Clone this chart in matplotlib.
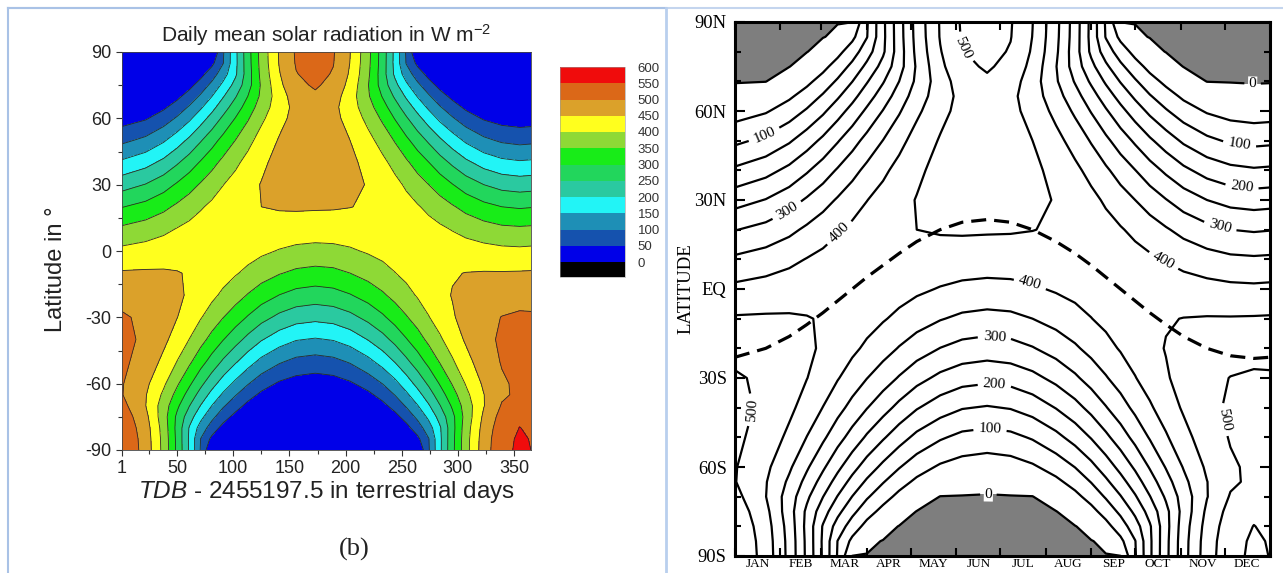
import numpy as np
import matplotlib.pyplot as plt
from matplotlib.colors import ListedColormap, BoundaryNorm
from matplotlib.cm import ScalarMappable
from matplotlib.lines import Line2D

plt.rcParams['font.family'] = ['Liberation Sans', 'DejaVu Sans']
plt.rcParams['mathtext.fontset'] = 'custom'
plt.rcParams['mathtext.rm'] = 'Liberation Sans'
plt.rcParams['mathtext.it'] = 'Liberation Sans:italic'
plt.rcParams['axes.unicode_minus'] = False

# ------------------------------------------------------------------
# values (W m^-2)
# ------------------------------------------------------------------
latitudes = [-90, -85, -80, -75, -70, -65, -60, -50, -40, -30, -20, -10, 0,
             10, 20, 30, 40, 50, 60, 65, 70, 75, 80, 85, 90]

days = [1, 22, 38, 50, 61, 71, 81, 91, 102, 113, 125, 141, 156, 173, 189,
        204, 220, 233, 244, 254, 264, 274, 284, 295, 307, 323, 339, 355, 366]

# latitude of the overhead sun (dashed line, right panel)
declination = [-23.0, -20, -16, -12, -8, -4, 0, 4, 8, 12, 16, 20, 22.5, 23.4, 22.5,
               20, 16, 12, 8, 4, 0, -4, -8, -12, -16, -20, -22.5, -23.4, -23.0]

# one list per day, from 90S to 90N
insolation_by_day = [
    [549, 547, 541, 531, 516, 502, 503, 510, 513, 505, 486, 455, 412, 359, 298, 230, 159, 89, 27, 4, 0, 0, 0, 0, 0],
    [480, 478, 473, 464, 451, 453, 461, 480, 491, 492, 480, 456, 420, 373, 316, 252, 183, 112, 45, 17, 0, 0, 0, 0, 0],
    [385, 384, 380, 372, 376, 391, 408, 439, 461, 472, 470, 455, 428, 388, 338, 279, 213, 144, 74, 42, 14, 0, 0, 0, 0],
    [289, 288, 285, 290, 310, 334, 357, 399, 430, 451, 458, 452, 433, 402, 359, 306, 244, 177, 106, 71, 38, 10, 0, 0, 0],
    [193, 192, 196, 222, 251, 280, 308, 359, 399, 428, 444, 447, 437, 413, 378, 331, 275, 211, 141, 106, 70, 36, 7, 0, 0],
    [96, 99, 129, 164, 198, 231, 262, 319, 367, 403, 428, 440, 438, 423, 395, 355, 305, 246, 179, 143, 107, 71, 35, 3, 0],
    [0, 38, 76, 113, 149, 184, 218, 281, 334, 378, 410, 430, 437, 430, 410, 378, 334, 281, 218, 184, 149, 113, 76, 38, 0],
    [0, 3, 34, 70, 106, 142, 177, 243, 302, 351, 391, 418, 433, 435, 423, 399, 363, 316, 259, 228, 196, 162, 128, 98, 95],
    [0, 0, 6, 35, 69, 103, 138, 206, 269, 324, 370, 404, 427, 437, 434, 418, 390, 351, 302, 274, 246, 217, 192, 188, 189],
    [0, 0, 0, 10, 37, 69, 103, 171, 236, 296, 347, 389, 419, 438, 443, 436, 416, 385, 345, 323, 300, 280, 276, 279, 280],
    [0, 0, 0, 0, 13, 40, 71, 137, 204, 267, 324, 372, 409, 436, 450, 452, 441, 420, 390, 374, 360, 356, 363, 367, 369],
    [0, 0, 0, 0, 0, 16, 43, 106, 173, 238, 299, 353, 397, 432, 454, 465, 465, 454, 436, 428, 427, 439, 447, 453, 454],
    [0, 0, 0, 0, 0, 6, 29, 87, 153, 220, 283, 340, 389, 427, 456, 473, 478, 475, 466, 464, 475, 488, 498, 504, 506],
    [0, 0, 0, 0, 0, 3, 23, 80, 146, 213, 276, 334, 385, 425, 455, 474, 483, 482, 477, 478, 492, 506, 516, 522, 524],
    [0, 0, 0, 0, 0, 6, 28, 87, 153, 219, 282, 338, 387, 426, 454, 470, 476, 473, 464, 462, 473, 486, 496, 502, 504],
    [0, 0, 0, 0, 0, 16, 43, 105, 171, 236, 297, 350, 394, 428, 451, 462, 461, 450, 433, 425, 424, 435, 444, 449, 451],
    [0, 0, 0, 0, 13, 39, 70, 136, 202, 264, 320, 368, 405, 431, 445, 447, 436, 415, 386, 370, 356, 352, 359, 363, 365],
    [0, 0, 0, 10, 37, 68, 101, 169, 233, 292, 343, 384, 414, 432, 437, 430, 411, 381, 341, 319, 296, 277, 272, 275, 276],
    [0, 0, 6, 35, 68, 102, 136, 203, 265, 320, 365, 399, 421, 431, 428, 413, 385, 346, 297, 271, 242, 214, 190, 185, 186],
    [0, 3, 34, 69, 105, 140, 174, 239, 297, 346, 385, 412, 427, 428, 417, 393, 358, 311, 256, 225, 193, 160, 126, 97, 94],
    [0, 38, 75, 111, 147, 182, 215, 276, 329, 372, 404, 423, 430, 423, 404, 372, 329, 276, 215, 182, 147, 111, 75, 38, 0],
    [95, 98, 128, 161, 195, 227, 258, 315, 362, 398, 422, 433, 431, 417, 389, 350, 301, 242, 176, 141, 106, 70, 34, 3, 0],
    [190, 190, 194, 219, 248, 277, 304, 354, 393, 422, 438, 441, 431, 408, 373, 327, 271, 208, 139, 104, 69, 35, 6, 0, 0],
    [286, 285, 282, 286, 307, 330, 353, 394, 425, 445, 452, 447, 428, 397, 355, 302, 241, 175, 105, 71, 38, 10, 0, 0, 0],
    [381, 380, 376, 368, 372, 387, 403, 434, 456, 467, 465, 451, 423, 384, 335, 276, 211, 142, 73, 41, 13, 0, 0, 0, 0],
    [477, 475, 469, 460, 448, 449, 458, 476, 487, 488, 477, 453, 417, 370, 314, 250, 181, 111, 45, 17, 0, 0, 0, 0, 0],
    [536, 534, 528, 518, 504, 492, 494, 503, 507, 501, 483, 453, 412, 360, 300, 233, 163, 93, 30, 6, 0, 0, 0, 0, 0],
    [559, 557, 551, 540, 525, 510, 509, 514, 515, 506, 486, 454, 410, 357, 295, 227, 156, 86, 25, 3, 0, 0, 0, 0, 0],
    [549, 547, 541, 531, 516, 502, 503, 510, 513, 505, 486, 455, 412, 359, 298, 230, 159, 89, 27, 4, 0, 0, 0, 0, 0],
]

levels = list(range(0, 601, 50))
band_colors = ['#0000e8', '#1552ae', '#1e8fb6', '#22f4f6', '#2ac9a0', '#22d65c',
               '#18ec18', '#8ed936', '#ffff1e', '#dba12a', '#db6818', '#f00c0c']

month_names = ['JAN', 'FEB', 'MAR', 'APR', 'MAY', 'JUN',
               'JUL', 'AUG', 'SEP', 'OCT', 'NOV', 'DEC']
month_starts = [1, 32, 60, 91, 121, 152, 182, 213, 244, 274, 305, 335, 366]

lat_names = ['90S', '60S', '30S', 'EQ', '30N', '60N', '90N']

# where the inline labels of the right panel sit (day, latitude)
label_spots = [(21, 52), (36, 27), (72, 19), (152, 80), (345, 48), (347, 35),
               (332, 21), (294, 10), (354, 68), (202, 1), (178, -16), (178, -32),
               (175, -47), (174, -68), (15, -41), (335, -44)]

Q = np.array(insolation_by_day, dtype=float).T   # rows = latitude, cols = day

W, H = 1283, 573
fig = plt.figure(figsize=(W / 100, H / 100), dpi=100)


def box(x0, y0, x1, y1):
    """pixel box (top-left origin) -> figure fraction rect"""
    return [x0 / W, 1 - y1 / H, (x1 - x0) / W, (y1 - y0) / H]


# ---------------- left panel: filled contours ----------------
ink = '#222222'
ax1 = fig.add_axes(box(122, 52, 531, 450))
ax1.contourf(days, latitudes, Q, levels=levels, colors=band_colors)
ax1.contour(days, latitudes, Q, levels=levels[1:-1], colors='#2a2a2a', linewidths=0.6)
ax1.set_xlim(1, 365)
ax1.set_ylim(-90, 90)
ax1.set_xticks([1, 50, 100, 150, 200, 250, 300, 350])
ax1.set_xticks([25, 75, 125, 175, 225, 275, 325], minor=True)
ax1.set_yticks([-90, -60, -30, 0, 30, 60, 90])
ax1.set_yticks([-75, -45, -15, 15, 45, 75], minor=True)
ax1.tick_params(which='both', direction='out', labelsize=13, color='#333333',
                labelcolor=ink, width=0.8)
ax1.tick_params(which='major', length=4)
ax1.tick_params(which='minor', length=3)
for s in ax1.spines.values():
    s.set_linewidth(0.6)
    s.set_color('#444444')
ax1.set_title(r'Daily mean solar radiation in W m$^{-2}$', fontsize=15, pad=7, color=ink)
ax1.set_xlabel(r'$\mathit{TDB}$ - 2455197.5 in terrestrial days', fontsize=17.5,
               labelpad=1, color=ink)
fig.text(56 / W, 1 - 269 / H, 'Latitude in °', rotation=90, fontsize=17,
         ha='center', va='center', color=ink)
fig.text(354 / W, 1 - 549 / H, '(b)', fontsize=19, family='Liberation Serif',
         ha='center', va='center', color=ink)

cmap = ListedColormap(band_colors)
cmap.set_under('black')
norm = BoundaryNorm(levels, cmap.N)
cax = fig.add_axes(box(560, 67, 625, 277))
cb = fig.colorbar(ScalarMappable(norm=norm, cmap=cmap), cax=cax, extend='min',
                  extendrect=True, extendfrac=15 / 195, ticks=levels)
cb.outline.set_linewidth(0.4)
cb.outline.set_edgecolor('#999999')
cax.tick_params(length=0, labelsize=9.5, pad=9, labelcolor='#333333')

# ---------------- right panel: line contours ----------------
ax2 = fig.add_axes(box(735, 22, 1270, 556))
ax2.contourf(days, latitudes, Q, levels=[-1, 0.5], colors=['#7e7e7e'])
plain_levels = [v for v in range(50, 551, 50) if v % 100]
labelled_levels = [0.5, 100, 200, 300, 400, 500]
ax2.contour(days, latitudes, Q, levels=plain_levels, colors='black', linewidths=1.6)
cs = ax2.contour(days, latitudes, Q, levels=labelled_levels, colors='black', linewidths=1.6)
texts = ax2.clabel(cs, manual=label_spots, inline=True, inline_spacing=4, fontsize=11,
                   fmt=lambda v: '0' if v < 1 else f'{v:.0f}')
for t in texts:
    t.set_family('Liberation Serif')
    t.set_bbox(dict(facecolor='white', edgecolor='none', pad=0.5))
ax2.plot(days, declination, color='black', lw=2.3, dashes=(4.7, 2.5))

ax2.set_xlim(1, 366)
ax2.set_ylim(-90, 90)
ax2.set_xticks(month_starts)
ax2.set_xticklabels([])
mids = [(a + b) / 2 for a, b in zip(month_starts[:-1], month_starts[1:])]
ax2.set_xticks(mids, minor=True)
ax2.set_xticklabels(month_names, minor=True, family='Liberation Serif', fontsize=9.5)
ax2.set_yticks([-90, -60, -30, 0, 30, 60, 90])
ax2.set_yticklabels(lat_names, family='Liberation Serif', fontsize=13.4)
ax2.set_yticks([v for v in range(-80, 90, 10) if v % 30], minor=True)
ax2.tick_params(which='both', direction='in', top=True, right=True, width=1.5)
ax2.tick_params(axis='x', which='major', length=6)
ax2.tick_params(axis='x', which='minor', length=0, pad=1.5)
ax2.tick_params(axis='y', which='major', length=7, pad=6)
ax2.tick_params(axis='y', which='minor', length=4)
for s in ax2.spines.values():
    s.set_linewidth(2.2)
fig.text(686 / W, 1 - 289 / H, 'LATITUDE', rotation=90, fontsize=13.5,
         family='Liberation Serif', ha='center', va='center')

# ---------------- screenshot frame lines ----------------
edge = '#a9c2e6'
fig.add_artist(Line2D([8 / W, 1], [1 - 8 / H, 1 - 8 / H], color='#c4d5ee', lw=1.5))
fig.add_artist(Line2D([8 / W, 666 / W], [1 - 8 / H, 1 - 8 / H], color=edge, lw=1.5))
fig.add_artist(Line2D([8 / W, 8 / W], [0, 1 - 8 / H], color=edge, lw=1.5))
fig.add_artist(Line2D([666 / W, 666 / W], [0, 1 - 8 / H], color='#b9cfee', lw=2))

fig.savefig('out.png', dpi=100)
